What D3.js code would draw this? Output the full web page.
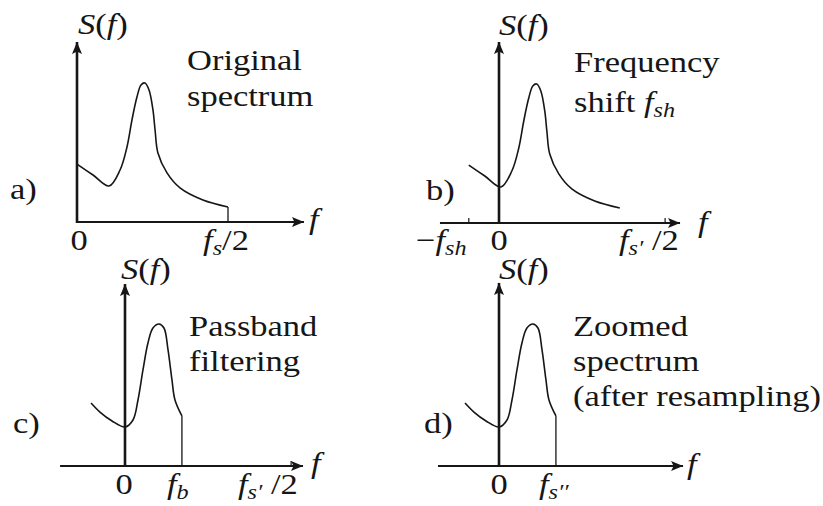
<!DOCTYPE html>
<html>
<head>
<meta charset="utf-8">
<script src="https://cdn.jsdelivr.net/npm/d3@7"></script>
<style>
  html, body { margin: 0; padding: 0; background: #fff; }
  svg { display: block; }
</style>
</head>
<body>
<svg id="chart" width="823" height="506"></svg>
<script>
// ---- data -------------------------------------------------------------
// Original spectrum S(f); frequency measured in units of f_s/2.
const origFreq  = [0, 0.106, 0.212, 0.285, 0.331, 0.364, 0.397, 0.424, 0.450, 0.477, 0.503, 0.517, 0.536, 0.596, 0.682, 0.834, 1.0];
const origPower = [0.417, 0.338, 0.259, 0.374, 0.540, 0.734, 0.899, 0.986, 1.0, 0.950, 0.806, 0.662, 0.496, 0.353, 0.245, 0.158, 0.108];

// Frequency shift f_sh applied in panel b.
const shiftFreq = 0.2;

// Shifted spectrum after passband filtering (panels c and d).
const filtFreq  = [-0.225, -0.166, -0.086, 0, 0.053, 0.086, 0.119, 0.152, 0.185, 0.225, 0.258, 0.285, 0.311, 0.331, 0.377];
const filtPower = [0.453, 0.388, 0.324, 0.281, 0.331, 0.475, 0.691, 0.885, 0.993, 1.022, 0.993, 0.835, 0.619, 0.475, 0.360];

// Marked frequencies
const nyquistOrig = 1.0;   // f_s/2
const nyquistNew  = 1.1;   // f_s'/2
const bandEdge    = 0.377; // f_b, also f_s''

// Text labels: each label is a list of [text, style]; style r = roman, i = italic, si = italic subscript
const axisTitleY = [["S", "i"], ["(", "r"], ["f", "i"], [")", "r"]];
const axisTitleX = [["f", "i"]];
const tickZero   = [["0", "r"]];
const tickHalfFs = [["f", "i"], ["s", "si"], ["/2", "r"]];
const tickHalfFs1 = [["f", "i"], ["s\u2032", "si"], [" /2", "r"]];
const tickNegSh  = [["\u2212", "r"], ["f", "i"], ["sh", "si"]];
const tickFb     = [["f", "i"], ["b", "si"]];
const tickFs2    = [["f", "i"], ["s\u2032\u2032", "si"]];
const titleA = [[["Original", "r"]], [["spectrum", "r"]]];
const titleB = [[["Frequency", "r"]], [["shift ", "r"], ["f", "i"], ["sh", "si"]]];
const titleC = [[["Passband", "r"]], [["filtering", "r"]]];
const titleD = [[["Zoomed", "r"]], [["spectrum", "r"]], [["(after resampling)", "r"]]];

// ---- drawing ----------------------------------------------------------
const svg = d3.select("#chart");
const FAMILY = "'Liberation Serif', 'DejaVu Serif', 'Times New Roman', serif";
const FONT = 30, STRETCH = 1.15, SUB_DY = 5;
const PX_F = 151, PX_S = 139;
const INK = "#161616";

const defs = svg.append("defs");
defs.append("marker")
  .attr("id", "arrow").attr("markerUnits", "userSpaceOnUse")
  .attr("markerWidth", 14).attr("markerHeight", 12)
  .attr("refX", 12).attr("refY", 5).attr("orient", "auto")
  .append("path").attr("d", "M0,0 L12,5 L0,10 L2.5,5 Z").attr("fill", INK);

function drawLabel(parent, x, y, parts, anchor = "start") {
  const g = parent.append("g").attr("transform", `translate(${x},${y}) scale(${STRETCH},1)`);
  const t = g.append("text")
    .attr("text-anchor", anchor)
    .attr("font-family", FAMILY)
    .attr("font-size", FONT)
    .attr("fill", INK);
  let shift = 0;
  parts.forEach(([s, st]) => {
    const sub = st === "si";
    const target = sub ? SUB_DY : 0;
    t.append("tspan").text(s)
      .attr("dy", target - shift)
      .attr("font-style", st.includes("i") ? "italic" : "normal")
      .attr("font-size", sub ? FONT * 0.7 : FONT);
    shift = target;
  });
}

const line = (x, y) => d3.line().x(d => x(d[0])).y(d => y(d[1])).curve(d3.curveCatmullRom.alpha(0.5));

function panel(cfg) {
  const g = svg.append("g");
  const x = d3.scaleLinear().domain([0, 1]).range([cfg.ox, cfg.ox + PX_F]);
  const y = d3.scaleLinear().domain([0, 1]).range([cfg.oy, cfg.oy - PX_S]);

  // axes with arrowheads
  g.append("line")
    .attr("x1", x(cfg.xExt[0])).attr("x2", x(cfg.xExt[1]))
    .attr("y1", y(0)).attr("y2", y(0))
    .attr("stroke", INK).attr("stroke-width", 2).attr("marker-end", "url(#arrow)");
  g.append("line")
    .attr("x1", x(0)).attr("x2", x(0))
    .attr("y1", y(0) + 1).attr("y2", y(cfg.yTop))
    .attr("stroke", INK).attr("stroke-width", 2.6).attr("marker-end", "url(#arrow)");

  // small tick marks on the frequency axis
  (cfg.ticks || []).forEach(t => {
    g.append("line").attr("x1", x(t)).attr("x2", x(t))
      .attr("y1", y(0) - 5).attr("y2", y(0) + 1)
      .attr("stroke", INK).attr("stroke-width", 1.2);
  });

  // spectrum curve
  const pts = cfg.freq.map((f, i) => [f, cfg.power[i]]);
  g.append("path").attr("d", line(x, y)(pts))
    .attr("fill", "none").attr("stroke", INK).attr("stroke-width", 1.6);

  // vertical cut-off line at the last sample
  if (cfg.cut) {
    const last = pts[pts.length - 1];
    g.append("line").attr("x1", x(last[0])).attr("x2", x(last[0]))
      .attr("y1", y(last[1])).attr("y2", y(0))
      .attr("stroke", INK).attr("stroke-width", 1.3);
  }

  // text
  drawLabel(g, cfg.sLabel[0], cfg.sLabel[1], axisTitleY);
  drawLabel(g, cfg.fLabel[0], cfg.fLabel[1], axisTitleX);
  drawLabel(g, cfg.tag[0], cfg.tag[1], [[cfg.tag[2], "r"]]);
  cfg.title.forEach((ln, i) => drawLabel(g, cfg.titlePos[0], cfg.titlePos[1] + i * cfg.titleStep, ln));
  cfg.tickLabels.forEach(tl => drawLabel(g, tl[0], tl[1], tl[2], tl[3] || "start"));
}

panel({
  ox: 77, oy: 222, xExt: [0, 1.503], yTop: 1.295,
  freq: origFreq, power: origPower, cut: true,
  sLabel: [78, 34], fLabel: [309, 229], tag: [10, 199, "a)"],
  title: titleA, titlePos: [187, 70], titleStep: 36,
  tickLabels: [[79, 250, tickZero, "middle"], [226, 250, tickHalfFs, "middle"]]
});

panel({
  ox: 499, oy: 223, xExt: [-0.391, 1.199], yTop: 1.302,
  freq: origFreq.map(f => f - shiftFreq), power: origPower, cut: false,
  ticks: [-shiftFreq, nyquistNew],
  sLabel: [499, 35], fLabel: [698, 232], tag: [426, 200, "b)"],
  title: titleB, titlePos: [574, 72], titleStep: 40,
  tickLabels: [[416, 250, tickNegSh], [499, 250, tickZero, "middle"], [619, 250, tickHalfFs1]]
});

panel({
  ox: 125, oy: 466, xExt: [-0.43, 1.179], yTop: 1.309,
  freq: filtFreq, power: filtPower, cut: true,
  ticks: [nyquistNew],
  sLabel: [121, 279], fLabel: [311, 473], tag: [13, 433, "c)"],
  title: titleC, titlePos: [189, 336], titleStep: 35,
  tickLabels: [[124, 494, tickZero, "middle"], [167, 494, tickFb], [238, 494, tickHalfFs1]]
});

panel({
  ox: 499, oy: 466, xExt: [-0.404, 1.219], yTop: 1.317,
  freq: filtFreq, power: filtPower, cut: true,
  sLabel: [499, 279], fLabel: [687, 474], tag: [424, 433, "d)"],
  title: titleD, titlePos: [573, 336], titleStep: 35,
  tickLabels: [[499, 494, tickZero, "middle"], [539, 494, tickFs2]]
});
</script>
</body>
</html>
